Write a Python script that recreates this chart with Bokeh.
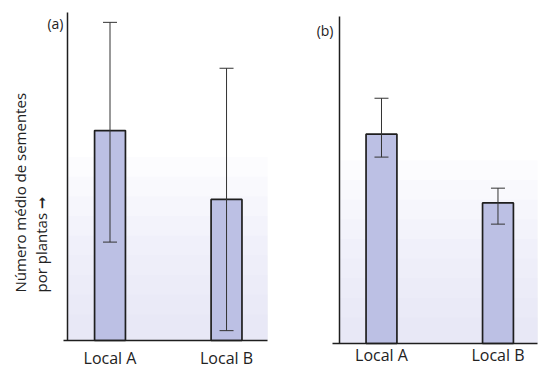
from bokeh.plotting import figure
from bokeh.layouts import row
from bokeh.models import (ColumnDataSource, Whisker, TeeHead, Label,
                          BoxAnnotation, FixedTicker, Range1d)
from bokeh.embed import file_html
from bokeh.resources import INLINE

# ---- data ----
categories = ["Local A", "Local B"]
means = [64, 43]
upper_a = [97, 83]
lower_a = [30, 3]
upper_b = [75, 47.5]
lower_b = [57, 36.5]
panel_tags = ["(a)", "(b)"]
y_label = "Número médio de sementes\npor plantas \u279e"

FONT = "Open Sans"
DARK = "#1e1e1e"
BAR = "#bcc0e4"
H = 368
idx = [i + 1 for i in range(len(categories))]


def panel(tag, upper, lower, width, xr, yr, y_axis_x, x_bounds,
          label_standoff, tag_pos, ylabel_pos=None):
    p = figure(width=width, height=H, output_backend="svg",
               toolbar_location=None, x_range=Range1d(*xr),
               y_range=Range1d(*yr), min_border=0)
    p.outline_line_color = None
    p.grid.visible = False
    p.background_fill_color = "white"
    p.border_fill_color = "white"

    # faint lavender tint towards the bottom of the frame (style only)
    for t in [56, 50, 44, 38, 32, 26, 20, 14, 8]:
        p.add_layout(BoxAnnotation(left=y_axis_x, right=x_bounds[1],
                                   bottom=0, top=t, fill_color="#d6d4ec",
                                   fill_alpha=0.075, line_color=None,
                                   level="underlay"))

    src = ColumnDataSource(dict(x=idx, top=means, upper=upper, lower=lower,
                                cat=categories))
    p.vbar(x="x", top="top", bottom=0, width=0.265, source=src,
           fill_color=BAR, line_color=DARK, line_width=1.7)
    p.add_layout(Whisker(base="x", upper="upper", lower="lower", source=src,
                         line_color="#333333", line_width=1, level="overlay",
                         upper_head=TeeHead(size=14, line_color="#333333", line_width=1),
                         lower_head=TeeHead(size=14, line_color="#333333", line_width=1)))

    xa = p.xaxis[0]
    xa.fixed_location = 0
    xa.bounds = x_bounds
    xa.ticker = FixedTicker(ticks=idx)
    xa.major_label_overrides = {i: c for i, c in zip(idx, categories)}
    xa.major_tick_in = 0
    xa.major_tick_out = 0
    xa.minor_tick_in = 0
    xa.minor_tick_out = 0
    xa.axis_line_color = DARK
    xa.axis_line_width = 1.5
    xa.major_label_standoff = label_standoff
    xa.major_label_text_font = FONT
    xa.major_label_text_font_size = "16px"
    xa.major_label_text_color = "#222222"

    ya = p.yaxis[0]
    ya.fixed_location = y_axis_x
    ya.bounds = (0, 100)
    ya.ticker = FixedTicker(ticks=[])
    ya.major_tick_in = 0
    ya.major_tick_out = 0
    ya.minor_tick_in = 0
    ya.minor_tick_out = 0
    ya.axis_line_color = DARK
    ya.axis_line_width = 1.5

    if ylabel_pos is not None:
        p.add_layout(Label(x=ylabel_pos[0], y=ylabel_pos[1], x_units="screen",
                           y_units="screen", text=y_label, angle=90,
                           angle_units="deg", text_align="left",
                           text_baseline="middle", text_font=FONT,
                           text_font_size="15px", text_color="#222222",
                           text_line_height=1.08))

    p.add_layout(Label(x=tag_pos[0], y=tag_pos[1], x_units="screen",
                       y_units="screen", text=tag, text_align="right",
                       text_baseline="top", text_font=FONT,
                       text_font_size="14px", text_color="#222222"))
    return p


pa = panel(panel_tags[0], upper_a, lower_a, 290,
           xr=(0.0601, 2.549), yr=(-8.54, 103.66), y_axis_x=0.6352,
           x_bounds=(0.601, 2.352), label_standoff=7,
           tag_pos=(63, 355), ylabel_pos=(30, 76))
pb = panel(panel_tags[1], upper_b, lower_b, 262,
           xr=(0.2189, 2.468), yr=(-7.65, 104.89), y_axis_x=0.6395,
           x_bounds=(0.579, 2.339), label_standoff=1,
           tag_pos=(43, 348))

layout = row(pa, pb)
open("out.html", "w").write(file_html(layout, INLINE))
